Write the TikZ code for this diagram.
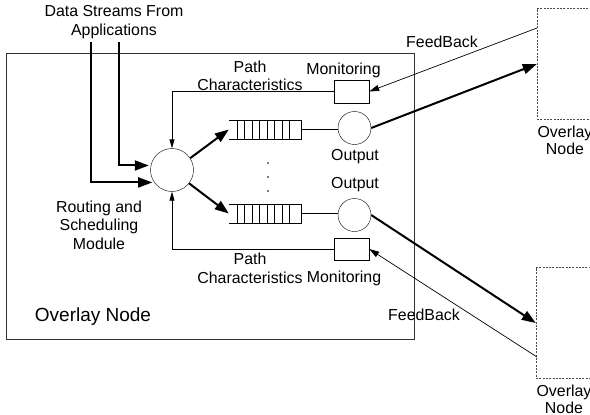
\documentclass[tikz,border=0pt]{standalone}
\usepackage{fontspec}
\setmainfont{Liberation Sans}
\usetikzlibrary{arrows.meta}

\tikzset{
  module/.style={draw, circle, minimum size=43pt, inner sep=0pt},
  outport/.style={draw, circle, minimum size=33pt, inner sep=0pt},
  monbox/.style={draw, minimum width=35pt, minimum height=23pt, inner sep=0pt},
  peerbox/.style={draw=black!70, dash pattern=on 2pt off 1.3pt, minimum width=56pt, minimum height=111pt, inner sep=0pt},
  queue/.style={minimum width=72pt, minimum height=19pt, inner sep=0pt},
  flow/.style={line width=2pt, -{Triangle[length=14pt,width=10pt]}},
  feedback/.style={line width=0.7pt, -{Triangle[length=10pt,width=6pt]}},
  pathinfo/.style={line width=0.9pt, -{Triangle[length=9pt,width=5pt]}},
  lbl/.style={align=center, inner sep=0pt}
}

\begin{document}
\begin{tikzpicture}[x=1pt, y=-1pt, font=\fontsize{15.9}{18.5}\selectfont]
    \useasboundingbox (0,0) rectangle (590,415);

    % Overlay node frame
    \draw[black!80, line width=0.8pt] (6,53) rectangle (414,339);
    \node[lbl, font=\fontsize{19}{22}\selectfont] (self) at (93,317) {Overlay Node};

    % Routing and scheduling module
    \node[module] (rsm) at (172,170) {};
    \node[lbl] (rsmlbl) at (99,225) {Routing and\\Scheduling\\Module};

    % Data streams
    \node[lbl] (apps) at (114,22) {Data Streams From\\Applications};
    \coordinate (in1) at (91,42);
    \coordinate (in2) at (119,42);
    \draw[flow, shorten >=2pt] (in1) |- (rsm.215);
    \draw[flow, shorten >=2pt] (in2) |- (rsm.168);

    % Queues
    \foreach \q/\y in {q1/129.5, q2/213.5} {
        \node[queue] (\q) at (265,\y) {};
        \draw (\q.north west) -- (\q.north east) -- (\q.south east) -- (\q.south west);
        \foreach \k in {0,...,7}
            \draw (\q.north west) ++(8+7.5*\k,0) -- ++(0,19);
    }
    \foreach \y in {163,177,191} \fill (268,\y) circle (0.9);
    \draw[flow] (rsm.33) -- (q1.west);
    \draw[flow] (rsm.-38) -- (q2.west);

    % Output ports
    \node[outport] (out1) at (354.5,128) {};
    \node[outport] (out2) at (354.5,215) {};
    \node[lbl] (out1lbl) at (355,157) {Output};
    \node[lbl] (out2lbl) at (355,185) {Output};
    \draw[line width=1.2pt] (q1.east) -- (q1.east -| out1.west);
    \draw[line width=1.2pt] (q2.east) -- (q2.east -| out2.west);

    % Monitoring and path characteristics
    \node[monbox] (mon1) at (351.5,91.5) {};
    \node[monbox, minimum height=22pt] (mon2) at (351.5,249) {};
    \node[lbl] (mon1lbl) at (343.5,70) {Monitoring};
    \node[lbl] (mon2lbl) at (344,278) {Monitoring};
    \node[lbl] (pc1) at (250,76) {Path\\Characteristics};
    \node[lbl] (pc2) at (250,268.5) {Path\\Characteristics};
    \draw[pathinfo] (mon1.west) -| (rsm.north);
    \draw[pathinfo] (mon2.west) -| (rsm.south);

    % Neighbour overlay nodes
    \node[peerbox] (peer1) at (565,64) {};
    \node[peerbox] (peer2) at (564,323) {};
    \node[lbl, font=\fontsize{15.9}{17}\selectfont] (peer1lbl) at (565,140.5) {Overlay\\Node};
    \node[lbl, font=\fontsize{15.9}{17}\selectfont] (peer2lbl) at (564,399.5) {Overlay\\Node};
    \draw[flow] (out1.east) -- (peer1.west);
    \draw[flow] (out2.east) -- (peer2.west);

    % Feedback
    \coordinate (fb1) at (537,28);
    \coordinate (fb2) at (537,357);
    \draw[feedback] (fb1) -- (mon1.east);
    \draw[feedback] (fb2) -- (mon2.east);
    \node[lbl] (fb1lbl) at (442,42) {FeedBack};
    \node[lbl] (fb2lbl) at (424,315) {FeedBack};
\end{tikzpicture}
\end{document}
